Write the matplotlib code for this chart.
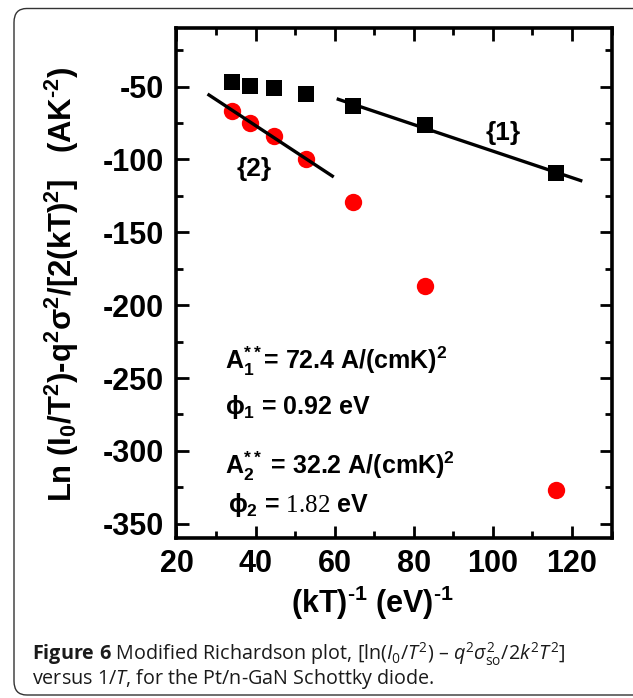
import numpy as np
import matplotlib
matplotlib.use("Agg")
import matplotlib.pyplot as plt
from matplotlib.patches import FancyBboxPatch
from matplotlib.ticker import MultipleLocator

plt.rcParams['axes.unicode_minus'] = False
plt.rcParams['mathtext.fontset'] = 'custom'
plt.rcParams['mathtext.rm'] = 'Open Sans'
plt.rcParams['mathtext.it'] = 'Open Sans:italic'
plt.rcParams['mathtext.bf'] = 'Open Sans:bold'
plt.rcParams['mathtext.sf'] = 'Liberation Sans:bold'
plt.rcParams['mathtext.tt'] = 'Liberation Serif'
plt.rcParams['mathtext.fallback'] = 'stixsans'

# ---- data ----
inv_kT = [34.1, 38.7, 44.6, 52.7, 64.5, 82.9, 116.0]
y_squares = [-46.6, -49.8, -51.2, -55.0, -63.3, -76.7, -109.6]
y_circles = [-66.5, -74.8, -83.9, -100.0, -129.1, -187.0, -327.0]
fit1_idx = [4, 5, 6]          # region {1}: squares
fit2_idx = [0, 1, 2, 3]       # region {2}: circles
fit1_range = [60.9, 122.2]
fit2_range = [28.2, 59.4]
x_ticks = [20, 40, 60, 80, 100, 120]
y_ticks = [-350, -300, -250, -200, -150, -100, -50]

W, H = 633, 698
fig = plt.figure(figsize=(W / 100, H / 100), dpi=100)

# rounded border
fig.patches.append(FancyBboxPatch((14 / W, 1 - 695 / H), (650 - 14) / W, (695 - 8.5) / H,
                                  boxstyle="round,pad=0,rounding_size=0.02",
                                  transform=fig.transFigure, fill=False,
                                  edgecolor='#333333', linewidth=1.0))

ax = fig.add_axes([176.5 / W, 1 - 538.3 / H, (611.6 - 176.5) / W, (538.3 - 28.3) / H])

x = np.array(inv_kT)
ys = np.array(y_squares)
yc = np.array(y_circles)

ax.plot(x, ys, 's', color='black', markersize=11.5, markeredgewidth=0, zorder=3)
ax.plot(x, yc, 'o', color='#ff0000', markersize=12.5, markeredgewidth=0, zorder=2)

p1 = np.polyfit(x[fit1_idx], ys[fit1_idx], 1)
p2 = np.polyfit(x[fit2_idx], yc[fit2_idx], 1)
xf1 = np.array(fit1_range)
xf2 = np.array(fit2_range)
ax.plot(xf1, np.polyval(p1, xf1), color='black', lw=2.4, zorder=4)
ax.plot(xf2, np.polyval(p2, xf2), color='black', lw=2.4, zorder=4)

ax.set_xlim(20, 130)
ax.set_ylim(-360, -10)
ax.set_xticks(x_ticks)
ax.set_yticks(y_ticks)
ax.xaxis.set_minor_locator(MultipleLocator(10))
ax.yaxis.set_minor_locator(MultipleLocator(25))
ax.tick_params(which='both', direction='in', top=True, right=True, width=2.0)
ax.tick_params(which='major', length=9)
ax.tick_params(which='minor', length=5)
ax.tick_params(axis='x', which='major', pad=8)
ax.tick_params(axis='y', which='major', pad=9)
for s in ax.spines.values():
    s.set_linewidth(2.6)
for lab in ax.get_xticklabels() + ax.get_yticklabels():
    lab.set_fontfamily('Liberation Sans')
    lab.set_fontweight('bold')
    lab.set_fontsize(22)

tkw = dict(family='Liberation Sans', weight='bold', color='black')
ax.text(102.5, -82, "{1}", fontsize=19, ha='center', va='center', **tkw)
ax.text(39.6, -106.6, "{2}", fontsize=19, ha='center', va='center', **tkw)

ax.text(32.3, -244, r"A$_{\mathsf{1}}^{\mathsf{**}}$= 72.4 A/(cmK)$^{\mathsf{2}}$",
        fontsize=18, ha='left', va='baseline', **tkw)
ax.text(32.3, -275, r"$\mathsf{\phi_1}$ = 0.92 eV",
        fontsize=18, ha='left', va='baseline', **tkw)
ax.text(32.3, -316, r"A$_{\mathsf{2}}^{\mathsf{**}}$ = 32.2 A/(cmK)$^{\mathsf{2}}$",
        fontsize=18, ha='left', va='baseline', **tkw)
ax.text(33.0, -342, r"$\mathsf{\phi_2}$ = $\mathtt{1.82}$ eV",
        fontsize=18, ha='left', va='baseline', **tkw)

fig.text(62 / W, 1 - 284 / H,
         r"Ln (I$_{\mathsf{0}}$/T$^{\mathsf{2}}$)-q$^{\mathsf{2}}$σ$^{\mathsf{2}}$/[2(kT)$^{\mathsf{2}}$]   (AK$^{\mathsf{‐2}}$)",
         rotation=90, ha='center', va='center', fontsize=22.3, **tkw)
fig.text(372.5 / W, 1 - 603 / H, r"(kT)$^{\mathsf{‐1}}$ (eV)$^{\mathsf{‐1}}$",
         ha='center', va='center', fontsize=22, **tkw)

caption = (r"$\mathbf{Figure\ 6}$ Modified Richardson plot, [ln($I_0$/$T^2$) – "
           r"$q^2\sigma^2_{\mathrm{so}}$/2$k^2T^2$]" "\n"
           r"versus 1/$T$, for the Pt/n-GaN Schottky diode.")
fig.text(31.7 / W, 1 - 641 / H, caption, family='Open Sans', color='#1a1a1a',
         fontsize=14.2, ha='left', va='top', linespacing=0.93)

fig.savefig("out.png", dpi=100)
